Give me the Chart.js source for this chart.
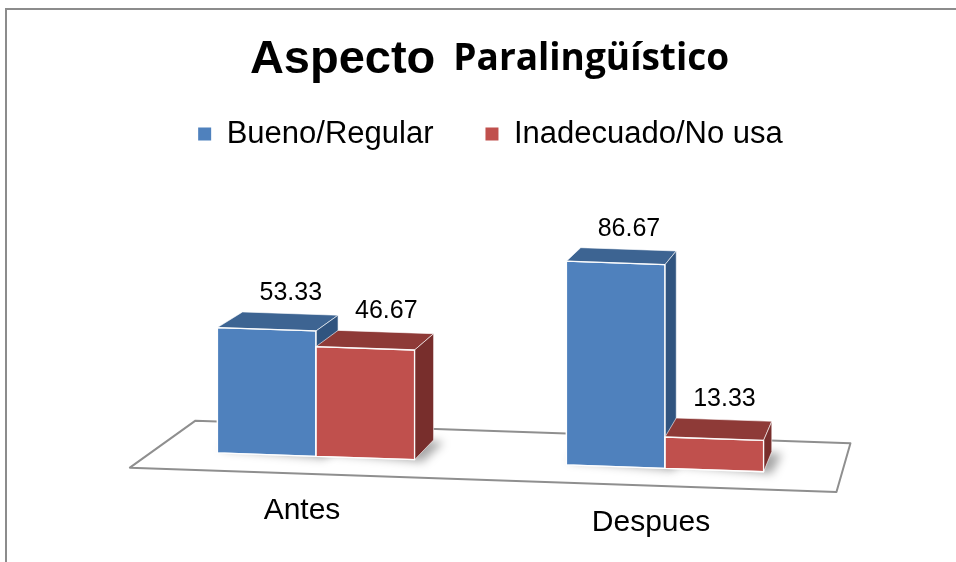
<!DOCTYPE html>
<html><head><meta charset="utf-8">
<script src="https://cdn.jsdelivr.net/npm/chart.js@4.4.1/dist/chart.umd.min.js"></script>
<style>
html,body{margin:0;padding:0;background:#fff;overflow:hidden;width:956px;height:562px}
#frame{position:absolute;left:5px;top:8px;width:1200px;height:1000px;border:2px solid #8c8c8c;box-sizing:border-box}
#wrap{position:absolute;left:0;top:0;width:956px;height:562px}
</style></head><body>
<div id="frame"></div>
<div id="wrap"><canvas id="c" width="956" height="562"></canvas></div>
<script>
// ---- data ----
const titleMain = 'Aspecto';
const titleSub = 'Paralingüístico';
const categories = ['Antes', 'Despues'];
const seriesNames = ['Bueno/Regular', 'Inadecuado/No usa'];
const buenoRegular = [53.33, 86.67];
const inadecuadoNoUsa = [46.67, 13.33];

// ---- style ----
const FRONT = ['#4f81bd', '#c0504d'];
const TOP = ['#3d6492', '#8e3a37'];
const SIDE = ['#30547f', '#782e2c'];
const SHEAR = 0.0345;
const VP = {x: 1028, y: -176};
const BAR_DEPTH = 0.031;
const FLOOR_FRONT = -0.027, FLOOR_BACK = 0.048;
const FONT = '"Liberation Sans", Arial, sans-serif';

function shear(area, x, y) { return {x: x, y: y + SHEAR * (x - area.left)}; }
function toward(p, f) { return {x: p.x + f * (VP.x - p.x), y: p.y + f * (VP.y - p.y)}; }
function poly(ctx, pts, fill, stroke, lw) {
  ctx.beginPath();
  ctx.moveTo(pts[0].x, pts[0].y);
  for (let i = 1; i < pts.length; i++) ctx.lineTo(pts[i].x, pts[i].y);
  ctx.closePath();
  if (fill) { ctx.fillStyle = fill; ctx.fill(); }
  if (stroke) { ctx.strokeStyle = stroke; ctx.lineWidth = lw; ctx.lineJoin = 'round'; ctx.stroke(); }
}
function barGeom(chart, i, j) {
  const area = chart.chartArea;
  const el = chart.getDatasetMeta(i).data[j];
  const p = el.getProps(['x', 'y', 'base', 'width'], true);
  const l = p.x - p.width / 2, r = p.x + p.width / 2;
  const ftl = shear(area, l, p.y), ftr = shear(area, r, p.y);
  const fbl = shear(area, l, p.base), fbr = shear(area, r, p.base);
  return {ftl, ftr, fbl, fbr,
    btl: toward(ftl, BAR_DEPTH), btr: toward(ftr, BAR_DEPTH),
    bbl: toward(fbl, BAR_DEPTH), bbr: toward(fbr, BAR_DEPTH), cx: p.x};
}

const threeD = {
  id: 'threeD',
  beforeDatasetsDraw(chart) {
    const ctx = chart.ctx, area = chart.chartArea;
    const z = chart.scales.y.getPixelForValue(0);
    // floor
    const fl = shear(area, area.left + 12, z), fr = shear(area, area.right + 2, z);
    ctx.save();
    poly(ctx, [toward(fl, FLOOR_FRONT), toward(fr, FLOOR_FRONT), toward(fr, FLOOR_BACK), toward(fl, FLOOR_BACK)], '#ffffff', '#8f8f8f', 2);
    // shadows
    ctx.filter = 'blur(5px)';
    categories.forEach((c, j) => {
      chart.data.datasets.forEach((ds, i) => {
        const g = barGeom(chart, i, j);
        const o = (pt, dx, dy) => ({x: pt.x + dx, y: pt.y + dy});
        poly(ctx, [o(g.fbl, 2, -4), o(g.fbr, 8, 2), o(g.bbr, 10, 2), o(g.bbl, 6, -4)], 'rgba(0,0,0,0.35)');
      });
    });
    ctx.filter = 'none';
    // bars
    categories.forEach((c, j) => {
      chart.data.datasets.forEach((ds, i) => {
        const g = barGeom(chart, i, j);
        poly(ctx, [g.ftl, g.ftr, g.fbr, g.fbl], FRONT[i], 'rgba(255,255,255,0.85)', 1.3);
        poly(ctx, [g.ftl, g.btl, g.btr, g.ftr], TOP[i], 'rgba(255,255,255,0.6)', 1);
        poly(ctx, [g.ftr, g.btr, g.bbr, g.fbr], SIDE[i], 'rgba(255,255,255,0.6)', 1);
        poly(ctx, [g.ftl, g.ftr, g.fbr, g.fbl], null, 'rgba(255,255,255,0.9)', 1.3);
      });
    });
    ctx.restore();
    return false;
  },
  afterDraw(chart) {
    const ctx = chart.ctx, area = chart.chartArea;
    ctx.save();
    ctx.fillStyle = '#000';
    // title
    const f1 = 'bold 47px ' + FONT, f2 = 'bold 37px "Open Sans", Lato, sans-serif';
    ctx.font = f1; const w1 = ctx.measureText(titleMain).width;
    ctx.font = f2; const w2 = ctx.measureText(titleSub).width;
    const gap = 18;
    const cxT = (area.left + area.right) / 2 - 1;
    let x0 = cxT - (w1 + gap + w2) / 2;
    ctx.textAlign = 'left'; ctx.textBaseline = 'alphabetic';
    ctx.font = f1; ctx.fillText(titleMain, x0, 73);
    ctx.font = f2; ctx.fillText(titleSub, x0 + w1 + gap, 70);
    // value labels
    ctx.font = '25px ' + FONT;
    ctx.textAlign = 'center';
    categories.forEach((c, j) => {
      chart.data.datasets.forEach((ds, i) => {
        const g = barGeom(chart, i, j);
        const dx = g.btr.x - g.ftr.x;
        ctx.fillText(ds.data[j].toFixed(2), g.cx + dx + 2, Math.min(g.btl.y, g.btr.y) - 12);
      });
    });
    // category labels
    ctx.font = '30px ' + FONT;
    const z = chart.scales.y.getPixelForValue(0);
    categories.forEach((c, j) => {
      const x = chart.scales.x.getPixelForValue(j) - 14;
      const p = shear(area, x, z);
      ctx.fillText(c, x, p.y + 63);
    });
    ctx.restore();
  }
};

new Chart(document.getElementById('c'), {
  type: 'bar',
  data: {
    labels: categories,
    datasets: [
      {label: seriesNames[0], data: buenoRegular, backgroundColor: FRONT[0], borderWidth: 0},
      {label: seriesNames[1], data: inadecuadoNoUsa, backgroundColor: FRONT[1], borderWidth: 0}
    ]
  },
  options: {
    responsive: false,
    animation: false,
    devicePixelRatio: 1,
    categoryPercentage: 0.565,
    barPercentage: 1.0,
    layout: {padding: {left: 141.5, right: 116.5, top: 66.5, bottom: 111.7}},
    scales: {
      x: {display: false, offset: true},
      y: {display: false, min: 0, max: 123.7}
    },
    plugins: {
      title: {display: false},
      tooltip: {enabled: false},
      legend: {
        display: true,
        position: 'top',
        labels: {
          boxWidth: 13, boxHeight: 13, padding: 52,
          color: '#000',
          font: {size: 31, family: FONT}
        }
      }
    }
  },
  plugins: [threeD]
});
</script>
</body></html>
